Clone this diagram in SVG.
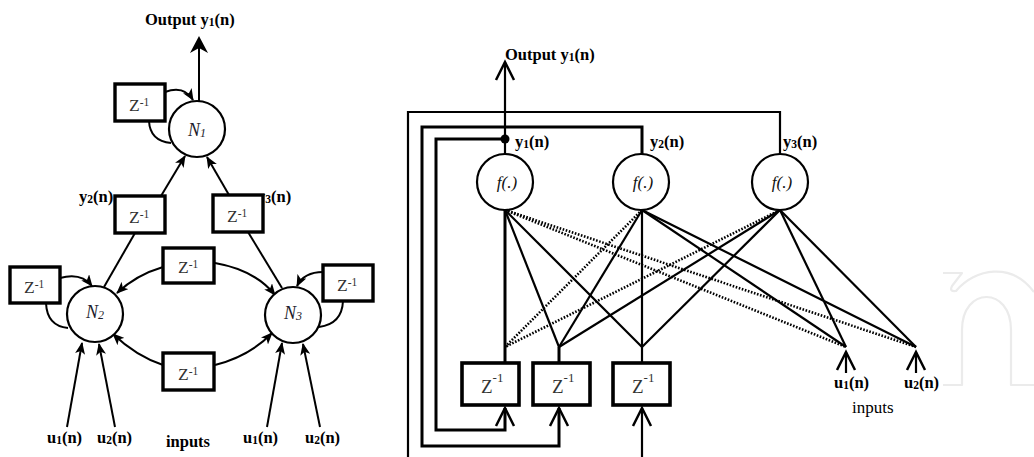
<svg xmlns="http://www.w3.org/2000/svg" width="1034" height="457" viewBox="0 0 1034 457">
  <defs>
    <style>
      .bg { fill: #ffffff; }
      .box { fill: #ffffff; stroke: #000; stroke-width: 3.4; }
      .rbox { fill: #ffffff; stroke: #000; stroke-width: 3.6; }
      .node { fill: #ffffff; stroke: #000; stroke-width: 2.2; }
      .wire { fill: none; stroke: #000; stroke-width: 2; }
      .fan { fill: none; stroke: #000; stroke-width: 2.2; }
      .dot { fill: none; stroke: #000; stroke-width: 2.6; stroke-dasharray: 1.6 1.6; }
      .bus { fill: none; stroke: #000; stroke-width: 3; }
      .thin { fill: none; stroke: #000; stroke-width: 2.2; }
      .lbl { font-family: "Liberation Serif", "Times New Roman", serif; font-weight: bold; font-size: 16.5px; fill: #000; }
      .reg { font-family: "Liberation Serif", "Times New Roman", serif; font-size: 17px; fill: #000; }
      .zt { font-family: "Liberation Serif", "Times New Roman", serif; font-size: 17.5px; fill: #333; }
      .rzt { font-family: "Liberation Serif", "Times New Roman", serif; font-size: 19px; fill: #333; }
      .nt { font-family: "Liberation Serif", "Times New Roman", serif; font-style: italic; font-size: 18px; fill: #1c1c2c; }
      .ft { font-family: "Liberation Serif", "Times New Roman", serif; font-style: italic; font-size: 17px; fill: #111; }
      .mark { fill: none; stroke: #ebebeb; stroke-width: 2.2; stroke-linejoin: round; }
    </style>
    <!-- filled arrowhead for the recurrent net -->
    <marker id="head" viewBox="0 0 12 10" refX="11" refY="5" markerWidth="12" markerHeight="10" markerUnits="userSpaceOnUse" orient="auto">
      <path d="M0,0 L12,5 L0,10 L3,5 Z" fill="#000"/>
    </marker>
    <!-- open chevron for the layered net -->
    <marker id="chev" viewBox="0 0 20 20" refX="18" refY="10" markerWidth="20" markerHeight="20" markerUnits="userSpaceOnUse" orient="auto" overflow="visible">
      <path d="M0,1 L18,10 L0,19" fill="none" stroke="#000" stroke-width="2.5"/>
    </marker>
  </defs>

  <rect class="bg" x="0" y="0" width="1034" height="457"/>

  <!-- faint logo mark -->
  <g id="logo">
    <path class="mark" d="M943,273 H962 L952,286 Q949,292 956,291 C975,268 1012,262 1034,292"/>
    <path class="mark" d="M943,385 H962 V330 C962,286 1011,286 1011,330 V385 H1034"/>
  </g>

  <!-- ===== left: fully recurrent three-neuron network ===== -->
  <g id="left-connectors">
    <!-- output of N1 -->
    <line class="wire" x1="199" y1="101" x2="199" y2="46"/>
    <path d="M199,36 L208,53 L199,48 L190,53 Z" fill="#000"/>
    <!-- N1 self loop -->
    <path class="wire" d="M165,92 Q184,85 193,100" marker-end="url(#head)"/>
    <path class="wire" d="M149,121 Q150,141 171,143"/>
    <!-- delayed y2, y3 into N1 -->
    <line class="wire" x1="161" y1="196" x2="185" y2="156" marker-end="url(#head)"/>
    <line class="wire" x1="229" y1="195" x2="207" y2="157" marker-end="url(#head)"/>
    <!-- y2 from N2, y3 from N3 -->
    <line class="wire" x1="135" y1="233" x2="104" y2="287"/>
    <line class="wire" x1="248" y1="232" x2="282" y2="288"/>
    <!-- N2 self loop -->
    <path class="wire" d="M60,278 Q81,272 92,286" marker-end="url(#head)"/>
    <path class="wire" d="M46,303 Q47,326 68,328"/>
    <!-- N3 self loop -->
    <path class="wire" d="M323,272 Q304,272 297,286" marker-end="url(#head)"/>
    <path class="wire" d="M343,301 Q342,324 319,327"/>
    <!-- cross links between N2 and N3 -->
    <path class="wire" d="M163,267 Q136,275 117,293" marker-end="url(#head)"/>
    <path class="wire" d="M215,263 Q255,270 275,295" marker-end="url(#head)"/>
    <path class="wire" d="M163,365 Q136,356 113,334" marker-end="url(#head)"/>
    <path class="wire" d="M215,365 Q250,356 272,333" marker-end="url(#head)"/>
    <!-- external inputs -->
    <line class="wire" x1="67" y1="427" x2="82" y2="343" marker-end="url(#head)"/>
    <line class="wire" x1="115" y1="427" x2="99" y2="344" marker-end="url(#head)"/>
    <line class="wire" x1="267" y1="427" x2="282" y2="343" marker-end="url(#head)"/>
    <line class="wire" x1="320" y1="427" x2="303" y2="344" marker-end="url(#head)"/>
  </g>

  <g id="left-labels">
    <text class="lbl" x="145" y="25">Output y<tspan font-size="11.5" dy="1">1</tspan><tspan dy="-1">(n)</tspan></text>
    <text class="lbl" x="79" y="202">y<tspan font-size="11.5" dy="1">2</tspan><tspan dy="-1">(n)</tspan></text>
    <text class="lbl" x="257" y="202">y<tspan font-size="11.5" dy="1">3</tspan><tspan dy="-1">(n)</tspan></text>
    <text class="lbl" x="47" y="443">u<tspan font-size="11.5" dy="1">1</tspan><tspan dy="-1">(n)</tspan></text>
    <text class="lbl" x="97" y="443">u<tspan font-size="11.5" dy="1">2</tspan><tspan dy="-1">(n)</tspan></text>
    <text class="lbl" x="166" y="447">inputs</text>
    <text class="lbl" x="243" y="443">u<tspan font-size="11.5" dy="1">1</tspan><tspan dy="-1">(n)</tspan></text>
    <text class="lbl" x="305" y="443">u<tspan font-size="11.5" dy="1">2</tspan><tspan dy="-1">(n)</tspan></text>
  </g>

  <g id="N1">
    <circle class="node" cx="197" cy="129" r="28"/>
    <text class="nt" x="197" y="136" text-anchor="middle">N<tspan font-size="12" dy="1">1</tspan></text>
  </g>
  <g id="N2">
    <circle class="node" cx="95" cy="314" r="28"/>
    <text class="nt" x="95" y="318" text-anchor="middle">N<tspan font-size="12" dy="1">2</tspan></text>
  </g>
  <g id="N3">
    <circle class="node" cx="293" cy="315" r="28"/>
    <text class="nt" x="293" y="319" text-anchor="middle">N<tspan font-size="12" dy="1">3</tspan></text>
  </g>

  <g id="delay-N1">
    <rect class="box" x="115" y="84" width="50" height="37"/>
    <text class="zt" x="129" y="111">Z<tspan font-size="11.5" dy="-5">-1</tspan></text>
  </g>
  <g id="delay-y2">
    <rect class="box" x="115" y="196" width="50" height="37"/>
    <text class="zt" x="129" y="223">Z<tspan font-size="11.5" dy="-5">-1</tspan></text>
  </g>
  <g id="delay-y3">
    <rect class="box" x="213" y="195" width="50" height="37"/>
    <text class="zt" x="227" y="222">Z<tspan font-size="11.5" dy="-5">-1</tspan></text>
  </g>
  <g id="delay-N2">
    <rect class="box" x="10" y="267" width="50" height="36"/>
    <text class="zt" x="24" y="293">Z<tspan font-size="11.5" dy="-5">-1</tspan></text>
  </g>
  <g id="delay-N3">
    <rect class="box" x="323" y="265" width="50" height="36"/>
    <text class="zt" x="337" y="291">Z<tspan font-size="11.5" dy="-5">-1</tspan></text>
  </g>
  <g id="delay-top">
    <rect class="box" x="163" y="248" width="51" height="35"/>
    <text class="zt" x="178" y="273">Z<tspan font-size="11.5" dy="-5">-1</tspan></text>
  </g>
  <g id="delay-bottom">
    <rect class="box" x="163" y="353" width="51" height="37"/>
    <text class="zt" x="178" y="380">Z<tspan font-size="11.5" dy="-5">-1</tspan></text>
  </g>

  <!-- ===== right: layered form with delayed feedback ===== -->
  <g id="right-connectors">
    <!-- output -->
    <path class="thin" d="M505,154 V62" marker-end="url(#chev)"/>
    <!-- feedback buses -->
    <path class="bus" d="M505,139 H436 V430 H505 V408" marker-end="url(#chev)"/>
    <path class="bus" d="M642,154 V127 H422 V446 H559 V408" marker-end="url(#chev)"/>
    <path class="thin" d="M780,154 V112 H408 V457"/>
    <path class="thin" d="M642,457 V408" marker-end="url(#chev)"/>
    <circle cx="505" cy="139" r="4.5" fill="#000"/>
    <!-- delay outputs into the fan -->
    <path class="bus" d="M505,210 V363"/>
    <path class="bus" d="M559,347 V363"/>
    <path class="fan" d="M642,210 V363"/>
    <!-- fan from f1 -->
    <line class="fan" x1="505" y1="210" x2="559" y2="347"/>
    <line class="fan" x1="505" y1="210" x2="642" y2="347"/>
    <line class="dot" x1="505" y1="210" x2="846" y2="347"/>
    <line class="dot" x1="505" y1="210" x2="916" y2="347"/>
    <!-- fan from f2 -->
    <line class="dot" x1="642" y1="210" x2="505" y2="347"/>
    <line class="fan" x1="642" y1="210" x2="559" y2="347"/>
    <line class="fan" x1="642" y1="210" x2="846" y2="347"/>
    <line class="fan" x1="642" y1="210" x2="916" y2="347"/>
    <!-- fan from f3 -->
    <line class="dot" x1="780" y1="210" x2="505" y2="347"/>
    <line class="fan" x1="780" y1="210" x2="559" y2="347"/>
    <line class="fan" x1="780" y1="210" x2="642" y2="347"/>
    <line class="fan" x1="780" y1="210" x2="846" y2="347"/>
    <line class="fan" x1="780" y1="210" x2="916" y2="347"/>
    <!-- external inputs -->
    <path class="thin" d="M846,373 V352" marker-end="url(#chev)"/>
    <path class="thin" d="M916,373 V352" marker-end="url(#chev)"/>
  </g>

  <g id="right-labels">
    <text class="lbl" x="505" y="60">Output y<tspan font-size="11.5" dy="1">1</tspan><tspan dy="-1">(n)</tspan></text>
    <text class="lbl" x="515" y="147">y<tspan font-size="11.5" dy="1">1</tspan><tspan dy="-1">(n)</tspan></text>
    <text class="lbl" x="650" y="147">y<tspan font-size="11.5" dy="1">2</tspan><tspan dy="-1">(n)</tspan></text>
    <text class="lbl" x="783" y="147">y<tspan font-size="11.5" dy="1">3</tspan><tspan dy="-1">(n)</tspan></text>
    <text class="lbl" x="834" y="388">u<tspan font-size="11.5" dy="1">1</tspan><tspan dy="-1">(n)</tspan></text>
    <text class="lbl" x="904" y="388">u<tspan font-size="11.5" dy="1">2</tspan><tspan dy="-1">(n)</tspan></text>
    <text class="reg" x="852" y="413">inputs</text>
  </g>

  <g id="f1">
    <circle class="node" cx="505" cy="182" r="28"/>
    <text class="ft" x="507" y="188" text-anchor="middle">f(.)</text>
  </g>
  <g id="f2">
    <circle class="node" cx="641" cy="182" r="28"/>
    <text class="ft" x="643" y="188" text-anchor="middle">f(.)</text>
  </g>
  <g id="f3">
    <circle class="node" cx="780" cy="182" r="28"/>
    <text class="ft" x="782" y="188" text-anchor="middle">f(.)</text>
  </g>

  <g id="delay-1">
    <rect class="rbox" x="462" y="363" width="57" height="42"/>
    <text class="rzt" x="481" y="393">Z<tspan font-size="13" dy="-11">-1</tspan></text>
  </g>
  <g id="delay-2">
    <rect class="rbox" x="533" y="363" width="57" height="42"/>
    <text class="rzt" x="552" y="393">Z<tspan font-size="13" dy="-11">-1</tspan></text>
  </g>
  <g id="delay-3">
    <rect class="rbox" x="613" y="363" width="57" height="42"/>
    <text class="rzt" x="632" y="393">Z<tspan font-size="13" dy="-11">-1</tspan></text>
  </g>
</svg>
